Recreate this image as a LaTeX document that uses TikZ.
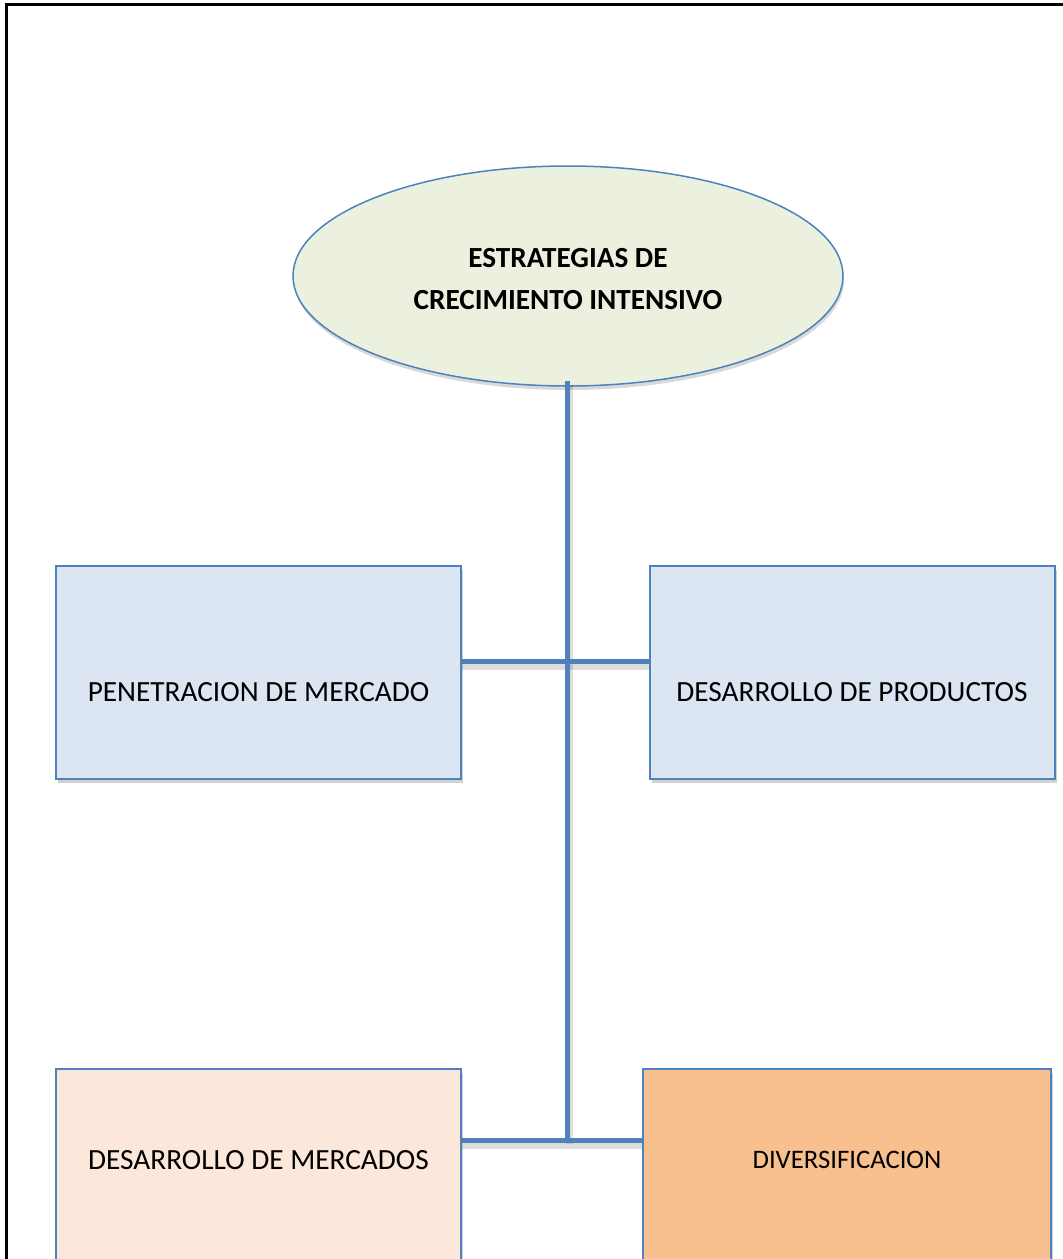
\documentclass[tikz,border=0pt]{standalone}
\usepackage{fontspec}
\setmainfont{Carlito}
\usetikzlibrary{shapes.geometric,shadows}
\definecolor{obl}{HTML}{4F81BD}
\definecolor{ellfill}{HTML}{EBF1DE}
\definecolor{bluefill}{HTML}{DCE6F2}
\definecolor{peach}{HTML}{FCE8DA}
\definecolor{orangefill}{HTML}{F8BF8F}
\newcommand{\shiftdown}[2]{\raisebox{#1}[\height][\depth]{#2}}
\tikzset{
  boxsty/.style={draw=obl, line width=2pt, rectangle, minimum width=405pt, minimum height=213pt, inner sep=0pt, align=center,
     drop shadow={opacity=0.3, shadow xshift=2pt, shadow yshift=-4pt, fill=black!60}},
  txt/.style={font=\fontsize{29.3}{35}\selectfont},
  conn/.style={draw=obl, line width=5pt},
  connshadow/.style={draw=black, opacity=0.13, line width=7pt},
}
\begin{document}
\begin{tikzpicture}[x=1pt,y=-1pt]
\useasboundingbox (0,0) rectangle (1063,1259);
\clip (0,0) rectangle (1063,1259);
% frame
\draw[line width=3pt] (6,1270) -- (6,4.5) -- (1070,4.5);
% ellipse
\node[ellipse, draw=obl, line width=1.5pt, fill=ellfill, minimum width=550pt, minimum height=220pt, inner sep=0pt, align=center,
  font=\fontsize{29.2}{41.5}\selectfont\bfseries,
  drop shadow={opacity=0.25, shadow xshift=1pt, shadow yshift=-4pt, fill=black!60}] (root) at (568,276)
  {\shiftdown{-4pt}{\begin{tabular}{c}ESTRATEGIAS DE\\CRECIMIENTO INTENSIVO\end{tabular}}};
% connectors (under the boxes)
\coordinate (top) at (567,381);
\coordinate (j1) at (567,661);
\coordinate (j2) at (567,1140);
\coordinate (l1) at (462,661);
\coordinate (r1) at (649,661);
\coordinate (l2) at (462,1140);
\coordinate (r2) at (643,1140);
\draw[connshadow] ([shift={(2,4)}]top) -- ([shift={(2,4)}]j2);
\draw[connshadow] ([shift={(0,5)}]l1) -- ([shift={(0,5)}]r1);
\draw[connshadow] ([shift={(0,5)}]l2) -- ([shift={(0,5)}]r2);
\draw[conn] (top) -- (j2);
\draw[conn] (l1) -- (r1);
\draw[conn] (l2) -- (r2);
% boxes
\node[boxsty, fill=bluefill, txt] (pen) at (258.5,672.5) {\shiftdown{-20pt}{PENETRACION DE MERCADO}};
\node[boxsty, fill=bluefill, txt] (prod) at (852,672.5) {\shiftdown{-20pt}{DESARROLLO DE PRODUCTOS}};
\node[boxsty, fill=peach, txt, minimum height=230pt] (merc) at (258.5,1184) {\shiftdown{24pt}{DESARROLLO DE MERCADOS}};
\node[boxsty, fill=orangefill, minimum width=408pt, minimum height=230pt, font=\fontsize{26.7}{32}\selectfont] (div) at (847,1184) {\shiftdown{24pt}{DIVERSIFICACION}};
\end{tikzpicture}
\end{document}
